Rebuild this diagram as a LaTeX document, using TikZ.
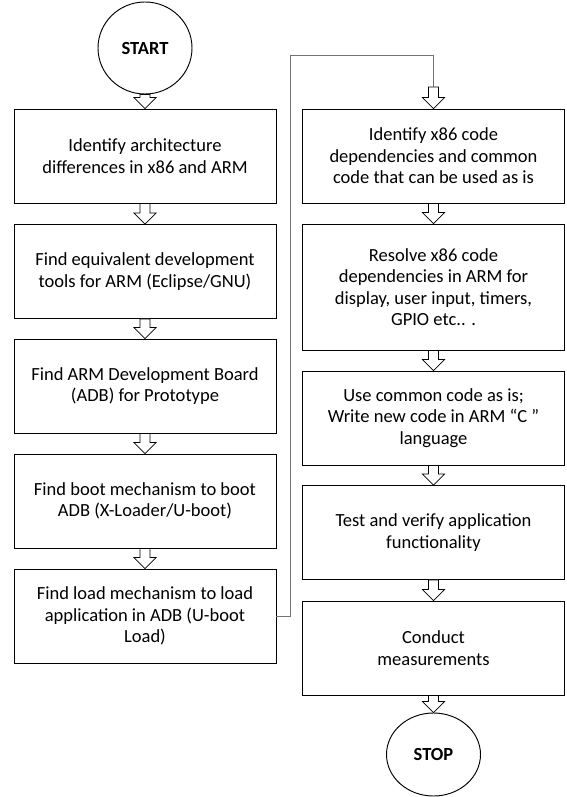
\documentclass[tikz,border=0pt]{standalone}
\usepackage{fontspec}
\setmainfont{Carlito}
\usetikzlibrary{calc,shapes.geometric}
\begin{document}
\begin{tikzpicture}[x=0.03cm, y=-0.03cm,
  stepbox/.style={draw=black, line width=0.8pt, minimum width=7.86cm, minimum height=2.82cm, inner sep=0pt, align=center, font=\fontsize{15.8}{18.4}\selectfont},
  terminal/.style={draw=black, ellipse, line width=0.8pt, inner sep=0pt, minimum width=2.82cm, font=\fontsize{15.8}{18.4}\selectfont\bfseries},
  blockarrow/.style={draw=black, line width=0.6pt, fill=white, line join=miter},
  link/.style={draw=black!55, line width=0.7pt}]

% units are pixels of the page, y grows downwards
  \useasboundingbox (0,0) rectangle (566,797);

  \node[terminal, minimum height=2.76cm] (start) at (145.0, 48.0) {START};
  \node[stepbox] (l1) at (145.0, 156.0) {Identify architecture\\differences in x86 and ARM};
  \node[stepbox] (l2) at (145.0, 271.5) {Find equivalent development\\tools for ARM (Eclipse/GNU)};
  \node[stepbox] (l3) at (145.0, 386.0) {Find ARM Development Board\\(ADB) for Prototype};
  \node[stepbox] (l4) at (145.0, 501.0) {Find boot mechanism to boot\\ADB (X-Loader/U-boot)};
  \node[stepbox] (l5) at (145.0, 616.0) {Find load mechanism to load\\application in ADB (U-boot\\Load)};

  \node[stepbox] (r1) at (433.5, 156.0) {Identify x86 code\\dependencies and common\\code that can be used as is};
  \node[stepbox, minimum height=3.78cm] (r2) at (433.5, 287.0) {Resolve x86 code\\dependencies in ARM for\\display, user input, timers,\\GPIO etc.. .};
  \node[stepbox] (r3) at (433.5, 418.0) {Use common code as is;\\Write new code in ARM “C ”\\language};
  \node[stepbox] (r4) at (433.5, 532.5) {Test and verify application\\functionality};
  \node[stepbox] (r5) at (433.5, 648.0) {Conduct\\measurements};
  \node[terminal, minimum height=2.49cm] (stop) at (433.5, 754.5) {STOP};

% jump from the bottom of the left column to the top of the right one
  \coordinate (bend) at (290.0, 55.0);
  \coordinate (drop) at (433.5, 87.0);
  \draw[link] (l5.east) -| (bend) -| (drop);
  \draw[blockarrow] ($(drop)+(-5,0)$) -- ($(r1.north)+(-5,-11)$) -- ($(r1.north)+(-11,-11)$) -- (r1.north)
    -- ($(r1.north)+(11,-11)$) -- ($(r1.north)+(5,-11)$) -- ($(drop)+(5,0)$) -- cycle;

  \foreach \a/\b in {start/l1, l1/l2, l2/l3, l3/l4, l4/l5, r1/r2, r2/r3, r3/r4, r4/r5, r5/stop}
    \draw[blockarrow] ($(\a.south)+(-5,0)$) -- ($(\b.north)+(-5,-11)$) -- ($(\b.north)+(-11,-11)$) -- (\b.north)
      -- ($(\b.north)+(11,-11)$) -- ($(\b.north)+(5,-11)$) -- ($(\a.south)+(5,0)$) -- cycle;
\end{tikzpicture}
\end{document}
